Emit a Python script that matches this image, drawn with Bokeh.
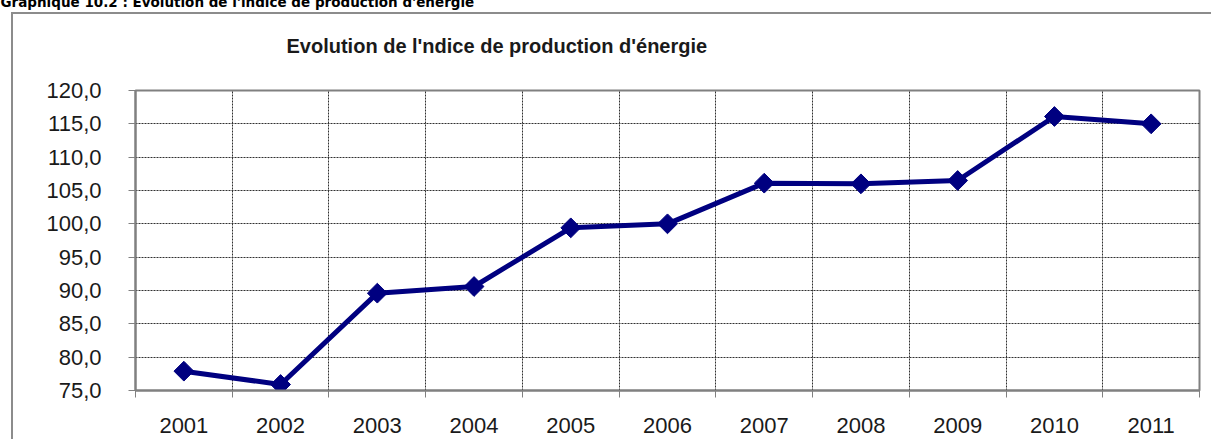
from bokeh.plotting import figure
from bokeh.models import Range1d, FixedTicker, Label, InlineStyleSheet
from bokeh.embed import file_html
from bokeh.resources import INLINE

heading = "Graphique 10.2 : Evolution de l'indice de production d'énergie"
chart_title = "Evolution  de l'ndice de production d'énergie"
years = ["2001", "2002", "2003", "2004", "2005", "2006", "2007", "2008", "2009", "2010", "2011"]
values = [77.9, 75.9, 89.6, 90.6, 99.4, 100.0, 106.1, 106.0, 106.5, 116.1, 115.0]
y_ticks = [75, 80, 85, 90, 95, 100, 105, 110, 115, 120]
y_tick_labels = ["75,0", "80,0", "85,0", "90,0", "95,0", "100,0", "105,0", "110,0", "115,0", "120,0"]

n = len(years)
xs = [i + 0.5 for i in range(n)]
bounds = list(range(n + 1))

FL, FT, FR, FB = 135, 90, 1199, 390
W, H = 1211, 439
Y0, Y1 = 75, 120

box_css = InlineStyleSheet(css="""
:host { overflow: hidden; }
:host::after {
  content: ""; position: absolute; left: 11px; top: 12px; right: -6px; bottom: -6px;
  border: 2px solid #8c8c8c; pointer-events: none; z-index: 10;
}
""")

p = figure(width=W, height=H, output_backend="svg", toolbar_location=None,
           x_range=Range1d(0, n), y_range=Range1d(Y0, Y1),
           min_border_left=FL, min_border_right=W - FR, min_border_top=FT,
           min_border_bottom=H - FB, stylesheets=[box_css])
p.background_fill_color = "white"
p.border_fill_color = "white"
p.outline_line_color = "#808080"
p.outline_line_width = 2

p.xaxis.ticker = FixedTicker(ticks=xs, minor_ticks=bounds)
p.xaxis.major_label_overrides = {x: y for x, y in zip(xs, years)}
p.xaxis.major_tick_line_color = None
p.xaxis.major_tick_out = 0
p.xaxis.major_tick_in = 0
p.xaxis.minor_tick_out = 7
p.xaxis.minor_tick_in = 0
p.xaxis.minor_tick_line_color = "#808080"
p.xaxis.minor_tick_line_width = 1
p.xaxis.major_label_standoff = 20
p.xaxis.axis_line_color = "#808080"
p.xaxis.axis_line_width = 2

p.yaxis.ticker = FixedTicker(ticks=y_ticks, minor_ticks=[])
p.yaxis.major_label_overrides = {t: l for t, l in zip(y_ticks, y_tick_labels)}
p.yaxis.major_tick_out = 7
p.yaxis.major_tick_in = 0
p.yaxis.major_tick_line_color = "#808080"
p.yaxis.major_label_standoff = 27
p.yaxis.axis_line_color = "#808080"
p.yaxis.axis_line_width = 2

for ax in (p.xaxis, p.yaxis):
    ax.major_label_text_font = "Liberation Sans"
    ax.major_label_text_font_size = "22px"
    ax.major_label_text_color = "#1a1a1a"

p.xgrid.ticker = FixedTicker(ticks=bounds[1:-1])
p.ygrid.ticker = FixedTicker(ticks=y_ticks[1:-1])
for g in (p.xgrid, p.ygrid):
    g.grid_line_color = "#303030"
    g.grid_line_dash = "2 1"
    g.grid_line_width = 1

p.line(xs, values, line_color="#000080", line_width=5)
p.scatter(xs, values, marker="square", size=14, angle=0.785398,
          fill_color="#000080", line_color="#000080")

p.add_layout(Label(x=286, y=45, x_units="canvas", y_units="canvas", text=chart_title,
                   text_font="Liberation Sans", text_font_style="bold", text_font_size="20px",
                   text_baseline="alphabetic", text_color="#1a1a1a"), "above")
p.add_layout(Label(x=0, y=1.5, x_units="canvas", y_units="canvas", text=heading,
                   text_font="DejaVu Sans", text_font_style="bold", text_font_size="13.5px",
                   text_baseline="alphabetic", text_color="black"), "above")

open("out.html", "w").write(file_html(p, INLINE))
